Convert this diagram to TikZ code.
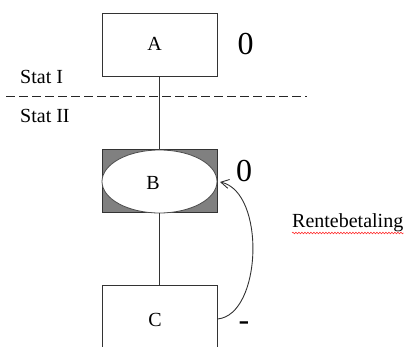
\documentclass[tikz,border=0pt]{standalone}
\usepackage{fontspec}
\setmainfont{Liberation Serif}
\usetikzlibrary{arrows.meta,decorations.pathmorphing,shapes.geometric}
\begin{document}
\begin{tikzpicture}[x=1pt,y=-1pt,
  ln/.style={draw=black!80,line width=1pt},
  boxnode/.style={ln,rectangle,minimum width=115pt,minimum height=63pt,inner sep=0pt},
  lbl/.style={font=\fontsize{20}{24}\selectfont,inner sep=0pt,anchor=base},
  big/.style={font=\fontsize{32}{36}\selectfont,inner sep=0pt,anchor=base}]
\useasboundingbox (0,0) rectangle (408,347);
\clip (0,0) rectangle (408,347);
% boxes
\node[boxnode] (A) at (159.5,45.5) {};
\node[boxnode,fill=black!50] (B) at (159.5,181.5) {};
\node[draw=black!70,line width=0.8pt,fill=white,ellipse,minimum width=115pt,minimum height=63pt,inner sep=0pt] (Bell) at (159.5,181.5) {};
\node[boxnode,minimum height=66pt] (C) at (159.5,319) {};
% connectors
\draw[ln] (A) -- (B);
\draw[ln] (B) -- (C);
\coordinate (tip) at (220,182);
\draw[ln,line width=0.9pt,-{Straight Barb[length=8pt,width=9pt]}] (C.east) .. controls (262,315) and (266,192) .. (tip);
% dashed border
\coordinate (d1) at (6,97);
\coordinate (d2) at (307,97);
\draw[black!85,line width=1pt,dash pattern=on 9pt off 4pt] (d1) -- (d2);
% labels
\node[lbl] (tA) at (154.5,51) {A};
\node[lbl] (tB) at (153,190) {B};
\node[lbl] (tC) at (155,327) {C};
\node[lbl,anchor=base west] (s1) at (20,84) {Stat I};
\node[lbl,anchor=base west] (s2) at (20,123) {Stat II};
\node[big] (z1) at (245.5,55) {0};
\node[big] (z2) at (244,182) {0};
\node[big] (m) at (244,331) {-};
\node[lbl,anchor=base west] (r) at (292,228) {Rentebetaling};
\draw[red!80,line width=0.6pt,decorate,decoration={snake,amplitude=0.8pt,segment length=3pt}] ([yshift=-5pt]r.base west) -- ([yshift=-5pt]r.base east);
\end{tikzpicture}
\end{document}
